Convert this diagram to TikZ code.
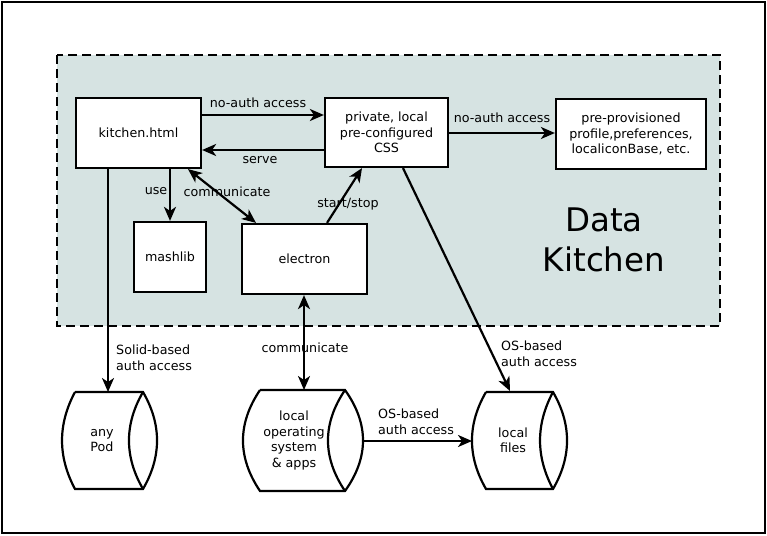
\documentclass[tikz,border=0pt]{standalone}
\usepackage{fontspec}
\setmainfont{DejaVu Sans}
\usetikzlibrary{arrows.meta}
\definecolor{kitchenbg}{RGB}{214,227,226}
\begin{document}
\begin{tikzpicture}[x=1pt,y=-1pt,
  font=\fontsize{12.7}{15.5}\selectfont,
  box/.style={draw, fill=white, line width=2.2pt, align=center, inner sep=0pt},
  tip/.tip={Stealth[length=14pt,width=12pt,inset=4pt]},
  arr/.style={line width=2.2pt, -tip},
  darr/.style={line width=2.2pt, tip-tip},
  lbl/.style={inner sep=0pt, align=left},
  cyl/.style={line width=2.2pt},
  cyltext/.style={inner sep=0pt, align=center}]
\useasboundingbox (0,0) rectangle (767,535);
\fill[white] (0,0) rectangle (767,535);
\draw[line width=2pt] (2,2) rectangle (765,533);
% data kitchen area
\draw[fill=kitchenbg, line width=2.2pt, dash pattern=on 9pt off 5pt] (57,55) rectangle (720,326);
\node[align=center, font=\fontsize{32.5}{40}\selectfont] (dk) at (604,240) {Data\\Kitchen};
% boxes
\node[box, minimum width=125, minimum height=70] (kitchen) at (138.5,133) {kitchen.html};
\node[box, minimum width=123, minimum height=69] (css) at (386.5,132.5) {private, local\\pre-configured\\CSS};
\node[box, minimum width=150, minimum height=70] (prov) at (631,134) {pre-provisioned\\profile,preferences,\\ localiconBase, etc.};
\node[box, minimum width=72, minimum height=70] (mashlib) at (170,257) {mashlib};
\node[box, minimum width=125, minimum height=70] (electron) at (304.5,259) {electron};
% cylinders
\draw[cyl] (75,392) -- (143,392) .. controls (161.7,424.3) and (161.7,456.7) .. (143,489) -- (75,489) .. controls (57.7,456.7) and (57.7,424.3) .. (75,392);
\draw[cyl] (143,392) .. controls (124.3,424.3) and (124.3,456.7) .. (143,489);
\draw[cyl] (260,390) -- (345,390) .. controls (369,423.7) and (369,457.3) .. (345,491) -- (260,491) .. controls (237.3,457.3) and (237.3,423.7) .. (260,390);
\draw[cyl] (345,390) .. controls (322.3,423.7) and (322.3,457.3) .. (345,491);
\draw[cyl] (486,392) -- (553,392) .. controls (571.7,424.3) and (571.7,456.7) .. (553,489) -- (486,489) .. controls (467.3,456.7) and (467.3,424.3) .. (486,392);
\draw[cyl] (553,392) .. controls (535.7,424.3) and (535.7,456.7) .. (553,489);
\node[cyltext] (pod) at (102,440.5) {any\\Pod};
\node[cyltext] (os) at (294,440.5) {local\\operating\\system\\\& apps};
\node[cyltext] (files) at (513,440.5) {local\\files};
% helper coordinates
\coordinate (r1) at (0,115);
\coordinate (r2) at (0,150);
\coordinate (r3) at (0,133);
\coordinate (c1) at (188,0);
\coordinate (c2) at (256,0);
\coordinate (c3) at (327,0);
\coordinate (c4) at (362,0);
\coordinate (c5) at (108,0);
\coordinate (c6) at (304,0);
\coordinate (c7) at (403,0);
\coordinate (podtop) at (108,392);
\coordinate (ostop) at (304,390);
\coordinate (osright) at (363,441);
\coordinate (filesleft) at (472,441);
\coordinate (filestop) at (510,391);
% connectors
\draw[arr] (kitchen.east |- r1) -- (css.west |- r1);
\draw[arr] (css.west |- r2) -- (kitchen.east |- r2);
\draw[arr] (css.east |- r3) -- (prov.west |- r3);
\draw[arr] (kitchen.south -| mashlib.north) -- (mashlib.north);
\draw[darr] (kitchen.south -| c1) -- (electron.north -| c2);
\draw[arr] (electron.north -| c3) -- (css.south -| c4);
\draw[arr] (kitchen.south -| c5) -- (podtop);
\draw[darr] (electron.south -| c6) -- (ostop);
\draw[arr] (css.south -| c7) -- (filestop);
\draw[arr] (osright) -- (filesleft);
% labels
\node[lbl] (l1) at (258,103) {no-auth access};
\node[lbl] (l2) at (260,160) {serve};
\node[lbl] (l3) at (502,118) {no-auth access};
\node[lbl] (l4) at (156,191) {use};
\node[lbl] (l5) at (227,192) {communicate};
\node[lbl] (l6) at (348,204) {start/stop};
\node[lbl, anchor=west] (l7) at (116,358) {Solid-based\\auth access};
\node[lbl] (l8) at (305,348) {communicate};
\node[lbl, anchor=west] (l9) at (501,354) {OS-based\\auth access};
\node[lbl, anchor=west] (l10) at (378,422) {OS-based\\auth access};
\end{tikzpicture}
\end{document}
